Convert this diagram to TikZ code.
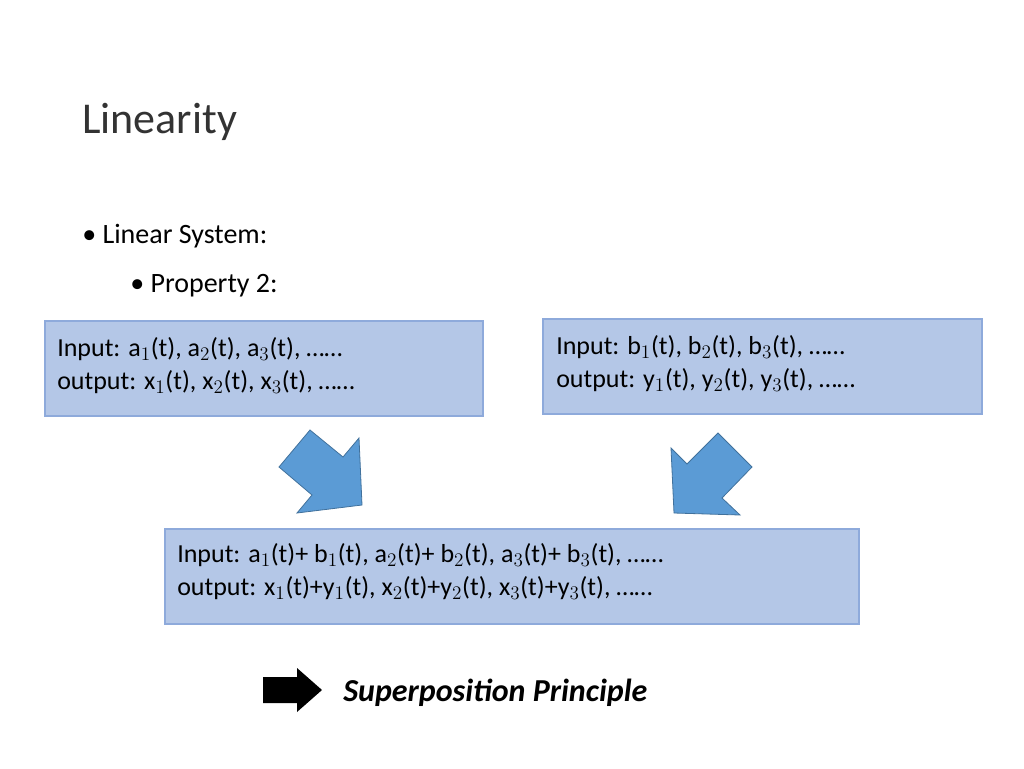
\documentclass[tikz,border=0pt]{standalone}
\usepackage{fontspec}
\setmainfont{Carlito}
\begin{document}
\begin{tikzpicture}[x=0.75pt,y=-0.75pt,
  boxst/.style={draw=boxline,fill=boxfill,line width=2.2pt},
  txt/.style={anchor=north west,font=\fontsize{19.5}{25}\selectfont,align=left,inner sep=0pt},
  barrow/.style={fill=arrowblue,draw=arrowline,line width=0.6pt}]
\definecolor{boxfill}{HTML}{B4C7E7}
\definecolor{boxline}{HTML}{8EAADB}
\definecolor{arrowblue}{HTML}{5B9BD5}
\definecolor{arrowline}{HTML}{41719C}
\path[use as bounding box] (0,0) rectangle (1024,768);
\node[anchor=base west,inner sep=0pt,font=\fontsize{33}{40}\selectfont,text=black!80] (title) at (82,133) {Linearity};
\node[anchor=base west,inner sep=0pt,font=\fontsize{21}{26}\selectfont] (b1) at (82,243) {\textbullet\ Linear System:};
\node[anchor=base west,inner sep=0pt,font=\fontsize{21}{26}\selectfont] (b2) at (130,292) {\textbullet\ Property 2:};
\draw[boxst] (45,321) rectangle (483,416);
\draw[boxst] (543,319) rectangle (982,414);
\draw[boxst] (165,529) rectangle (859,624);
\node[txt] (t1) at (57,337) {Input: a$_1$(t), a$_2$(t), a$_3$(t), ……\\output: x$_1$(t), x$_2$(t), x$_3$(t), ……};
\node[txt] (t2) at (556,335) {Input: b$_1$(t), b$_2$(t), b$_3$(t), ……\\output: y$_1$(t), y$_2$(t), y$_3$(t), ……};
\node[txt] (t3) at (177,543) {Input: a$_1$(t)+ b$_1$(t), a$_2$(t)+ b$_2$(t), a$_3$(t)+ b$_3$(t), ……\\output: x$_1$(t)+y$_1$(t), x$_2$(t)+y$_2$(t), x$_3$(t)+y$_3$(t), ……};
\draw[barrow] (310,430) -- (343,457) -- (359,438) -- (362,505) -- (297,513) -- (312,495) -- (279,467) -- cycle;
\draw[barrow] (718,433) -- (752,467) -- (722,498) -- (740,515) -- (674,513) -- (671,448) -- (687,464) -- cycle;
\fill[black] (263,677) -- (297,677) -- (297,668) -- (322,690) -- (297,712) -- (297,703) -- (263,703) -- cycle;
\node[anchor=base west,inner sep=0pt,font=\fontsize{24}{30}\selectfont\bfseries\itshape] (sp) at (343,701) {Superposition Principle};
\end{tikzpicture}
\end{document}
